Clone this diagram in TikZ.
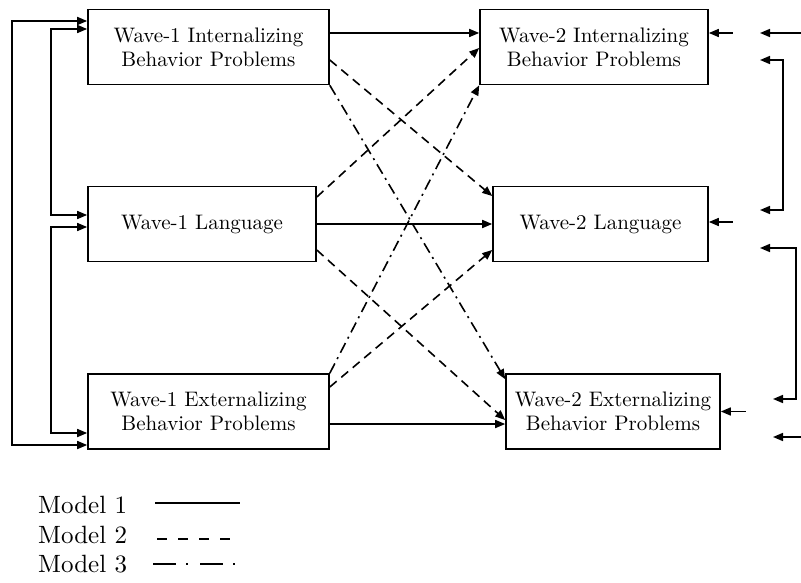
\documentclass[tikz,border=0pt]{standalone}
\usepackage{fontspec}
\setmainfont{lmroman10-regular.otf}
\usetikzlibrary{arrows.meta,calc}
\begin{document}
\begin{tikzpicture}[x=1pt,y=-1pt,
  every node/.style={font=\fontsize{21}{24}\selectfont},
  box/.style={draw,line width=1.6pt,inner sep=0pt,align=center,minimum height=75pt},
  conn/.style={line width=1.6pt,-{Triangle[length=10pt,width=8pt]}},
  both/.style={line width=1.6pt,{Triangle[length=10pt,width=8pt]}-{Triangle[length=10pt,width=8pt]}},
  mdash/.style={dash pattern=on 9pt off 6pt},
  mdashdot/.style={dash pattern=on 11pt off 5pt on 2pt off 5pt},
  legtext/.style={font=\fontsize{25}{28}\selectfont,anchor=base west,inner sep=0pt}]
\useasboundingbox (0,0) rectangle (801,583);
% boxes
\node[box,minimum width=241pt] (w1i) at (208.5,47) {Wave-1 Internalizing\\Behavior Problems};
\node[box,minimum width=228pt] (w1l) at (202,224) {Wave-1 Language};
\node[box,minimum width=241pt] (w1e) at (208.5,411.5) {Wave-1 Externalizing\\Behavior Problems};
\node[box,minimum width=228pt] (w2i) at (594,47) {Wave-2 Internalizing\\Behavior Problems};
\node[box,minimum width=215pt] (w2l) at (600.5,224) {Wave-2 Language};
\node[box,minimum width=214pt] (w2e) at (613,411.5) {Wave-2 Externalizing\\Behavior Problems};
% Model 1 (solid)
\draw[conn] ([yshift=14pt]w1i.east) -- ([yshift=14pt]w1i.east -| w2i.west);
\draw[conn] (w1l.east) -- (w1l.east -| w2l.west);
\draw[conn] ([yshift=-12.5pt]w1e.east) -- ([yshift=-12.5pt]w1e.east -| w2e.west);
% Model 2 (dashed)
\draw[conn,mdash] ([yshift=-13pt]w1i.east) -- ([yshift=28pt]w2l.west);
\draw[conn,mdash] ([yshift=27pt]w1l.east) -- ([yshift=-1pt]w2i.west);
\draw[conn,mdash] ([yshift=-26pt]w1l.east) -- ([yshift=-8.5pt]w2e.west);
\draw[conn,mdash] ([yshift=24.5pt]w1e.east) -- ([yshift=-26pt]w2l.west);
% Model 3 (dash-dot)
\draw[conn,mdashdot] (w1i.south east) -- ([yshift=-6pt]w2e.north west);
\draw[conn,mdashdot] (w1e.north east) -- (w2i.south west);
% left correlations
\draw[both] ([yshift=26pt]w1i.west) -- ++(-75pt,0) |- ([yshift=-33.5pt]w1e.west);
\draw[both] ([yshift=18pt]w1i.west) -- ++(-36pt,0) |- ([yshift=9pt]w1l.west);
\draw[both] ([yshift=-3pt]w1l.west) -- ++(-36pt,0) |- ([yshift=-21.5pt]w1e.west);
% right residual arrows
\draw[conn] ([xshift=24pt,yshift=14pt]w2i.east) -- ([yshift=14pt]w2i.east);
\draw[conn] ([xshift=24pt,yshift=2pt]w2l.east) -- ([yshift=2pt]w2l.east);
\draw[conn] ([xshift=25pt]w2e.east) -- (w2e.east);
\coordinate (ra1) at (801,33);
\coordinate (rb1) at (760,33);
\draw[conn] (ra1) -- (rb1);
\coordinate (ra2) at (801,437);
\coordinate (rb2) at (773,437);
\draw[conn] (ra2) -- (rb2);
\coordinate (c1a) at (760,60);
\coordinate (c1b) at (783,60);
\coordinate (c1c) at (783,210);
\coordinate (c1d) at (760,210);
\draw[both] (c1a) -- (c1b) -- (c1c) -- (c1d);
\coordinate (c2a) at (760,248);
\coordinate (c2b) at (796,248);
\coordinate (c2c) at (796,399);
\coordinate (c2d) at (773,399);
\draw[both] (c2a) -- (c2b) -- (c2c) -- (c2d);
% legend
\node[legtext] (m1) at (38,513) {Model 1};
\node[legtext] (m2) at (38,543) {Model 2};
\node[legtext] (m3) at (38,572) {Model 3};
\coordinate (l1a) at (155,503); \coordinate (l1b) at (240,503);
\coordinate (l2a) at (157,539); \coordinate (l2b) at (231,539);
\coordinate (l3a) at (153,564); \coordinate (l3b) at (236,564);
\draw[line width=2pt] (l1a) -- (l1b);
\draw[line width=2pt,dash pattern=on 10pt off 11pt] (l2a) -- (l2b);
\draw[line width=2pt,dash pattern=on 23pt off 10pt on 2pt off 12pt] (l3a) -- (l3b);
\end{tikzpicture}
\end{document}
